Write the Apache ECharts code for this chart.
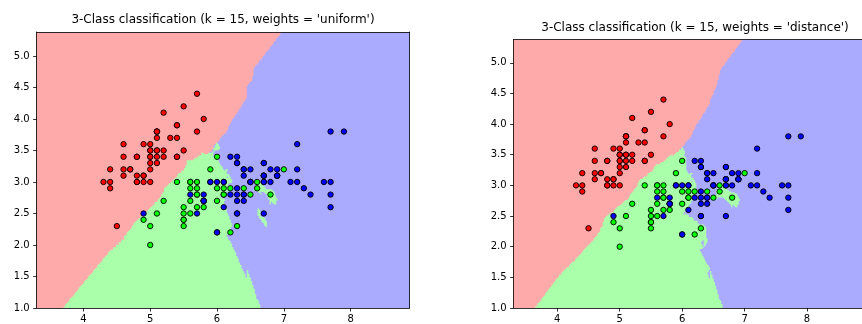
<!DOCTYPE html>
<html><head><meta charset="utf-8">
<script src="https://cdn.jsdelivr.net/npm/echarts@6/dist/echarts.min.js"></script>
<style>html,body{margin:0;padding:0;background:#fff}#c{width:862px;height:324px}</style>
</head><body><div id="c"></div>
<script>
// Iris sepal length / sepal width
const setosa = [[5.1,3.5],[4.9,3.0],[4.7,3.2],[4.6,3.1],[5.0,3.6],[5.4,3.9],[4.6,3.4],[5.0,3.4],[4.4,2.9],[4.9,3.1],
[5.4,3.7],[4.8,3.4],[4.8,3.0],[4.3,3.0],[5.8,4.0],[5.7,4.4],[5.4,3.9],[5.1,3.5],[5.7,3.8],[5.1,3.8],
[5.4,3.4],[5.1,3.7],[4.6,3.6],[5.1,3.3],[4.8,3.4],[5.0,3.0],[5.0,3.4],[5.2,3.5],[5.2,3.4],[4.7,3.2],
[4.8,3.1],[5.4,3.4],[5.2,4.1],[5.5,4.2],[4.9,3.1],[5.0,3.2],[5.5,3.5],[4.9,3.6],[4.4,3.0],[5.1,3.4],
[5.0,3.5],[4.5,2.3],[4.4,3.2],[5.0,3.5],[5.1,3.8],[4.8,3.0],[5.1,3.8],[4.6,3.2],[5.3,3.7],[5.0,3.3]];
const versicolor = [[7.0,3.2],[6.4,3.2],[6.9,3.1],[5.5,2.3],[6.5,2.8],[5.7,2.8],[6.3,3.3],[4.9,2.4],[6.6,2.9],[5.2,2.7],
[5.0,2.0],[5.9,3.0],[6.0,2.2],[6.1,2.9],[5.6,2.9],[6.7,3.1],[5.6,3.0],[5.8,2.7],[6.2,2.2],[5.6,2.5],
[5.9,3.2],[6.1,2.8],[6.3,2.5],[6.1,2.8],[6.4,2.9],[6.6,3.0],[6.8,2.8],[6.7,3.0],[6.0,2.9],[5.7,2.6],
[5.5,2.4],[5.5,2.4],[5.8,2.7],[6.0,2.7],[5.4,3.0],[6.0,3.4],[6.7,3.1],[6.3,2.3],[5.6,3.0],[5.5,2.5],
[5.5,2.6],[6.1,3.0],[5.8,2.6],[5.0,2.3],[5.6,2.7],[5.7,3.0],[5.7,2.9],[6.2,2.9],[5.1,2.5],[5.7,2.8]];
const virginica = [[6.3,3.3],[5.8,2.7],[7.1,3.0],[6.3,2.9],[6.5,3.0],[7.6,3.0],[4.9,2.5],[7.3,2.9],[6.7,2.5],[7.2,3.6],
[6.5,3.2],[6.4,2.7],[6.8,3.0],[5.7,2.5],[5.8,2.8],[6.4,3.2],[6.5,3.0],[7.7,3.8],[7.7,2.6],[6.0,2.2],
[6.9,3.2],[5.6,2.8],[7.7,2.8],[6.3,2.7],[6.7,3.3],[7.2,3.2],[6.2,2.8],[6.1,3.0],[6.4,2.8],[7.2,3.0],
[7.4,2.8],[7.9,3.8],[6.4,2.8],[6.3,2.8],[6.1,2.6],[7.7,3.0],[6.3,3.4],[6.4,3.1],[6.0,3.0],[6.9,3.1],
[6.7,3.1],[6.9,3.1],[5.8,2.7],[6.8,3.2],[6.7,3.3],[6.7,3.0],[6.3,2.5],[6.5,3.0],[6.2,3.4],[5.9,3.0]];
const xTicks = [4, 5, 6, 7, 8];
const yTicks = [1.0, 1.5, 2.0, 2.5, 3.0, 3.5, 4.0, 4.5, 5.0];
const titles = ["3-Class classification (k = 15, weights = 'uniform')", "3-Class classification (k = 15, weights = 'distance')"];
const weightModes = ['uniform', 'distance'];
const K = 15;
const MESH_STEP = 0.02;
const X_MIN = 3.3, X_MAX = 8.88, Y_MIN = 1.0, Y_MAX = 5.38;

const bgColors = ['#FFAAAA', '#AAFFAA', '#AAAAFF'];
const ptColors = ['#FF0000', '#00FF00', '#0000FF'];

// training set
const train = [];
[setosa, versicolor, virginica].forEach((arr, c) => arr.forEach(p => train.push([p[0], p[1], c])));

// KNN prediction over the mesh
const nx = Math.round((X_MAX - X_MIN) / MESH_STEP) + 1;
const ny = Math.round((Y_MAX - Y_MIN) / MESH_STEP) + 1;
const xs = [], ys = [];
for (let i = 0; i < nx; i++) xs.push(X_MIN + i * MESH_STEP);
for (let j = 0; j < ny; j++) ys.push(Y_MIN + j * MESH_STEP);

function predict(x, y) {
  const nd = [], ni = [];
  for (let t = 0; t < train.length; t++) {
    const dx = train[t][0] - x, dy = train[t][1] - y;
    const d = dx * dx + dy * dy;
    if (nd.length < K || d < nd[nd.length - 1]) {
      let pos = nd.length;
      while (pos > 0 && nd[pos - 1] > d) pos--;
      nd.splice(pos, 0, d); ni.splice(pos, 0, t);
      if (nd.length > K) { nd.pop(); ni.pop(); }
    }
  }
  const u = [0, 0, 0], w = [0, 0, 0];
  let zero = false;
  for (let k = 0; k < nd.length; k++) if (nd[k] < 1e-18) zero = true;
  for (let k = 0; k < nd.length; k++) {
    const c = train[ni[k]][2];
    u[c] += 1;
    if (zero) w[c] += nd[k] < 1e-18 ? 1 : 0;
    else w[c] += 1 / Math.sqrt(nd[k]);
  }
  const am = a => { let b = 0; for (let c = 1; c < 3; c++) if (a[c] > a[b]) b = c; return b; };
  return [am(u), am(w)];
}

const segs = [[], []];
for (let j = 0; j < ny; j++) {
  const row = [[], []];
  for (let i = 0; i < nx; i++) {
    const r = predict(xs[i], ys[j]);
    row[0].push(r[0]); row[1].push(r[1]);
  }
  for (let m = 0; m < 2; m++) {
    let s = 0;
    for (let i = 1; i <= nx; i++) {
      if (i === nx || row[m][i] !== row[m][s]) {
        segs[m].push([xs[s] - MESH_STEP / 2, xs[i - 1] + MESH_STEP / 2, ys[j] - MESH_STEP / 2, ys[j] + MESH_STEP / 2, row[m][s]]);
        s = i;
      }
    }
  }
}

const gridsPx = [
  { left: 36.7, top: 32, width: 372.7, height: 277.3, titleX: 223, titleY: 13 },
  { left: 513.6, top: 39.5, width: 361.6, height: 270.8, titleX: 695, titleY: 21 }
];
const font = 'DejaVu Sans';
const lineSt = { color: '#000', width: 0.8 };

const option = { animation: false, title: [], grid: [], xAxis: [], yAxis: [], series: [] };
gridsPx.forEach((g, gi) => {
  option.title.push({ text: titles[gi], left: g.titleX, top: g.titleY, textAlign: 'center', padding: 0,
    textStyle: { fontSize: 12, fontWeight: 'normal', fontFamily: font, color: '#000', lineHeight: 14 } });
  option.grid.push({ left: g.left, top: g.top, width: g.width, height: g.height, containLabel: false });
  option.xAxis.push({ gridIndex: gi, type: 'value', min: X_MIN, max: X_MAX, position: 'bottom', z: 10,
    axisLine: { show: true, onZero: false, lineStyle: lineSt },
    axisTick: { show: true, customValues: xTicks, length: 3.5, lineStyle: lineSt },
    axisLabel: { show: true, customValues: xTicks, color: '#000', fontSize: 10, fontFamily: font, margin: 6, formatter: v => String(v) },
    splitLine: { show: false } });
  option.xAxis.push({ gridIndex: gi, type: 'value', min: X_MIN, max: X_MAX, position: 'top', z: 10,
    axisLine: { show: true, onZero: false, lineStyle: lineSt }, axisTick: { show: false }, axisLabel: { show: false }, splitLine: { show: false } });
  option.yAxis.push({ gridIndex: gi, type: 'value', min: Y_MIN, max: Y_MAX, position: 'left', z: 10,
    axisLine: { show: true, onZero: false, lineStyle: lineSt },
    axisTick: { show: true, customValues: yTicks, length: 3.5, lineStyle: lineSt },
    axisLabel: { show: true, customValues: yTicks, color: '#000', fontSize: 10, fontFamily: font, margin: 7, formatter: v => v.toFixed(1) },
    splitLine: { show: false } });
  option.yAxis.push({ gridIndex: gi, type: 'value', min: Y_MIN, max: Y_MAX, position: 'right', z: 10,
    axisLine: { show: true, onZero: false, lineStyle: lineSt }, axisTick: { show: false }, axisLabel: { show: false }, splitLine: { show: false } });

  option.series.push({
    type: 'custom', xAxisIndex: gi * 2, yAxisIndex: gi * 2, clip: true, silent: true, z: 1,
    encode: { x: [0, 1], y: [2, 3] },
    data: segs[gi],
    renderItem: (params, api) => {
      const p0 = api.coord([api.value(0), api.value(3)]);
      const p1 = api.coord([api.value(1), api.value(2)]);
      return { type: 'rect', shape: { x: p0[0] - 0.3, y: p0[1] - 0.4, width: p1[0] - p0[0] + 0.6, height: p1[1] - p0[1] + 0.8 },
        style: { fill: bgColors[api.value(4)] } };
    }
  });
  [setosa, versicolor, virginica].forEach((arr, c) => {
    option.series.push({ type: 'scatter', xAxisIndex: gi * 2, yAxisIndex: gi * 2, z: 5, silent: true,
      symbol: 'circle', symbolSize: 5.4, data: arr,
      itemStyle: { color: ptColors[c], borderColor: '#000', borderWidth: 0.9, opacity: 1 } });
  });
});

const chart = echarts.init(document.getElementById('c'), null, { renderer: 'canvas' });
chart.setOption(option);
</script></body></html>
